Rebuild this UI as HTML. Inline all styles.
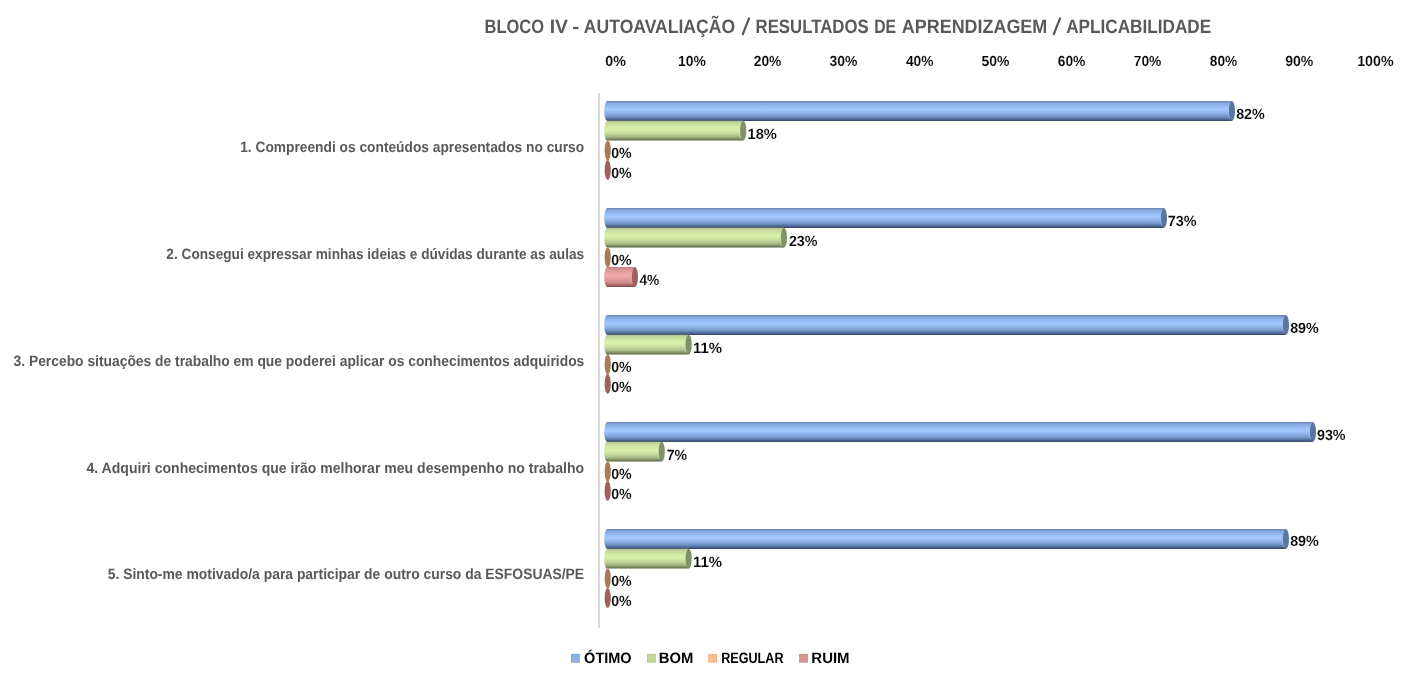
<!DOCTYPE html>
<html><head><meta charset="utf-8"><style>
html,body{margin:0;padding:0;background:#fff;width:1415px;height:680px;overflow:hidden}
svg{display:block;will-change:transform}
text{font-family:"Liberation Sans", sans-serif;font-weight:bold;text-rendering:geometricPrecision}
.k{stroke:#fff;stroke-width:0.12px}
</style></head><body>
<svg width="1415" height="680" viewBox="0 0 1415 680">
<defs>
<linearGradient id="gb" x1="0" y1="0" x2="0" y2="1"><stop offset="0" stop-color="#6585b5"/><stop offset="0.12" stop-color="#86aadf"/><stop offset="0.3" stop-color="#98befa"/><stop offset="0.45" stop-color="#a2caff"/><stop offset="0.6" stop-color="#90b4ea"/><stop offset="0.78" stop-color="#7294c6"/><stop offset="0.9" stop-color="#52709c"/><stop offset="0.96" stop-color="#3c5276"/><stop offset="1" stop-color="#34466a"/></linearGradient>
<linearGradient id="gg" x1="0" y1="0" x2="0" y2="1"><stop offset="0" stop-color="#aebf8b"/><stop offset="0.1" stop-color="#c4d89d"/><stop offset="0.3" stop-color="#d4eaa6"/><stop offset="0.45" stop-color="#d9efab"/><stop offset="0.62" stop-color="#c9dc9e"/><stop offset="0.8" stop-color="#a9ba88"/><stop offset="0.92" stop-color="#7f8d5d"/><stop offset="0.97" stop-color="#5e6a45"/><stop offset="1" stop-color="#56613f"/></linearGradient>
<linearGradient id="go" x1="0" y1="0" x2="0" y2="1"><stop offset="0" stop-color="#c99a6e"/><stop offset="0.45" stop-color="#f9c497"/><stop offset="1" stop-color="#8a6040"/></linearGradient>
<linearGradient id="gr" x1="0" y1="0" x2="0" y2="1"><stop offset="0" stop-color="#c88484"/><stop offset="0.12" stop-color="#d89494"/><stop offset="0.3" stop-color="#eaa2a2"/><stop offset="0.45" stop-color="#f2a9a9"/><stop offset="0.6" stop-color="#e49c9c"/><stop offset="0.78" stop-color="#cc8a8a"/><stop offset="0.9" stop-color="#a86a6a"/><stop offset="0.96" stop-color="#8c5050"/><stop offset="1" stop-color="#804848"/></linearGradient>
</defs>
<rect width="1415" height="680" fill="#fff"/>
<rect x="598" y="93" width="2" height="535" fill="#d9d9d9"/>
<path d="M742.5,35.0 L749.3,17.6 M1053.5,35.0 L1060.3,17.6" stroke="#595959" stroke-width="2.2" fill="none"/>
<text x="484.48" y="32.7" font-size="19.4" fill="#595959" text-anchor="start" textLength="59.54" lengthAdjust="spacingAndGlyphs">BLOCO</text>
<text x="549.66" y="32.7" font-size="19.4" fill="#595959" text-anchor="start" textLength="18.31" lengthAdjust="spacingAndGlyphs">IV</text>
<text x="572.19" y="32.7" font-size="19.4" fill="#595959" text-anchor="start" textLength="7.09" lengthAdjust="spacingAndGlyphs">-</text>
<text x="583.86" y="32.7" font-size="19.4" fill="#595959" text-anchor="start" textLength="151.19" lengthAdjust="spacingAndGlyphs">AUTOAVALIAÇÃO</text>
<text x="755.55" y="32.7" font-size="19.4" fill="#595959" text-anchor="start" textLength="113.15" lengthAdjust="spacingAndGlyphs">RESULTADOS</text>
<text x="874.19" y="32.7" font-size="19.4" fill="#595959" text-anchor="start" textLength="21.84" lengthAdjust="spacingAndGlyphs">DE</text>
<text x="901.82" y="32.7" font-size="19.4" fill="#595959" text-anchor="start" textLength="145.45" lengthAdjust="spacingAndGlyphs">APRENDIZAGEM</text>
<text x="1066.15" y="32.7" font-size="19.4" fill="#595959" text-anchor="start" textLength="145.0" lengthAdjust="spacingAndGlyphs">APLICABILIDADE</text>
<text x="240.2" y="152.3" font-size="15" fill="#595959" text-anchor="start" textLength="343.98" lengthAdjust="spacingAndGlyphs">1. Compreendi os conteúdos apresentados no curso</text>
<text x="166.37" y="259.0" font-size="15" fill="#595959" text-anchor="start" textLength="417.81" lengthAdjust="spacingAndGlyphs">2. Consegui expressar minhas ideias e dúvidas durante as aulas</text>
<text x="13.55" y="365.85" font-size="15" fill="#595959" text-anchor="start" textLength="570.77" lengthAdjust="spacingAndGlyphs">3. Percebo situações de trabalho em que poderei aplicar os conhecimentos adquiridos</text>
<text x="86.47" y="472.65" font-size="15" fill="#595959" text-anchor="start" textLength="497.71" lengthAdjust="spacingAndGlyphs">4. Adquiri conhecimentos que irão melhorar meu desempenho no trabalho</text>
<text x="107.69" y="579.3" font-size="15" fill="#595959" text-anchor="start" textLength="476.46" lengthAdjust="spacingAndGlyphs">5. Sinto-me motivado/a para participar de outro curso da ESFOSUAS/PE</text>
<text x="584.12" y="662.75" font-size="15" fill="#000" text-anchor="start" textLength="47.53" lengthAdjust="spacingAndGlyphs">ÓTIMO</text>
<text x="658.87" y="662.75" font-size="15" fill="#000" text-anchor="start" textLength="34.56" lengthAdjust="spacingAndGlyphs">BOM</text>
<text x="721.16" y="662.75" font-size="15" fill="#000" text-anchor="start" textLength="62.33" lengthAdjust="spacingAndGlyphs">REGULAR</text>
<text x="811.32" y="662.75" font-size="15" fill="#000" text-anchor="start" textLength="38.27" lengthAdjust="spacingAndGlyphs">RUIM</text>
<text x="605.23" y="66.2" font-size="14.6" fill="#000" text-anchor="start" textLength="20.62" lengthAdjust="spacingAndGlyphs" class="k">0%</text>
<text x="677.98" y="66.2" font-size="14.6" fill="#000" text-anchor="start" textLength="27.83" lengthAdjust="spacingAndGlyphs" class="k">10%</text>
<text x="753.77" y="66.2" font-size="14.6" fill="#000" text-anchor="start" textLength="27.55" lengthAdjust="spacingAndGlyphs" class="k">20%</text>
<text x="829.46" y="66.2" font-size="14.6" fill="#000" text-anchor="start" textLength="27.9" lengthAdjust="spacingAndGlyphs" class="k">30%</text>
<text x="905.93" y="66.2" font-size="14.6" fill="#000" text-anchor="start" textLength="27.52" lengthAdjust="spacingAndGlyphs" class="k">40%</text>
<text x="981.47" y="66.2" font-size="14.6" fill="#000" text-anchor="start" textLength="27.92" lengthAdjust="spacingAndGlyphs" class="k">50%</text>
<text x="1057.71" y="66.2" font-size="14.6" fill="#000" text-anchor="start" textLength="27.72" lengthAdjust="spacingAndGlyphs" class="k">60%</text>
<text x="1133.73" y="66.2" font-size="14.6" fill="#000" text-anchor="start" textLength="27.7" lengthAdjust="spacingAndGlyphs" class="k">70%</text>
<text x="1209.84" y="66.2" font-size="14.6" fill="#000" text-anchor="start" textLength="27.49" lengthAdjust="spacingAndGlyphs" class="k">80%</text>
<text x="1285.19" y="66.2" font-size="14.6" fill="#000" text-anchor="start" textLength="28.19" lengthAdjust="spacingAndGlyphs" class="k">90%</text>
<text x="1357.15" y="66.2" font-size="14.6" fill="#000" text-anchor="start" textLength="36.41" lengthAdjust="spacingAndGlyphs" class="k">100%</text>
<text x="1236.13" y="119.25" font-size="14.8" fill="#000" text-anchor="start" textLength="28.59" lengthAdjust="spacingAndGlyphs" class="k">82%</text>
<text x="747.54" y="138.65" font-size="14.8" fill="#000" text-anchor="start" textLength="29.3" lengthAdjust="spacingAndGlyphs" class="k">18%</text>
<text x="611.16" y="158.05" font-size="14.8" fill="#000" text-anchor="start" textLength="20.46" lengthAdjust="spacingAndGlyphs" class="k">0%</text>
<text x="611.16" y="177.75" font-size="14.8" fill="#000" text-anchor="start" textLength="20.46" lengthAdjust="spacingAndGlyphs" class="k">0%</text>
<text x="1167.82" y="226.25" font-size="14.8" fill="#000" text-anchor="start" textLength="28.81" lengthAdjust="spacingAndGlyphs" class="k">73%</text>
<text x="788.93" y="245.65" font-size="14.8" fill="#000" text-anchor="start" textLength="28.62" lengthAdjust="spacingAndGlyphs" class="k">23%</text>
<text x="611.16" y="265.05" font-size="14.8" fill="#000" text-anchor="start" textLength="20.46" lengthAdjust="spacingAndGlyphs" class="k">0%</text>
<text x="639.38" y="285.35" font-size="14.8" fill="#000" text-anchor="start" textLength="19.87" lengthAdjust="spacingAndGlyphs" class="k">4%</text>
<text x="1290.13" y="333.25" font-size="14.8" fill="#000" text-anchor="start" textLength="28.59" lengthAdjust="spacingAndGlyphs" class="k">89%</text>
<text x="693.14" y="352.65" font-size="14.8" fill="#000" text-anchor="start" textLength="28.96" lengthAdjust="spacingAndGlyphs" class="k">11%</text>
<text x="611.16" y="372.05" font-size="14.8" fill="#000" text-anchor="start" textLength="20.46" lengthAdjust="spacingAndGlyphs" class="k">0%</text>
<text x="611.16" y="391.75" font-size="14.8" fill="#000" text-anchor="start" textLength="20.46" lengthAdjust="spacingAndGlyphs" class="k">0%</text>
<text x="1316.93" y="440.25" font-size="14.8" fill="#000" text-anchor="start" textLength="28.67" lengthAdjust="spacingAndGlyphs" class="k">93%</text>
<text x="666.64" y="459.65" font-size="14.8" fill="#000" text-anchor="start" textLength="20.37" lengthAdjust="spacingAndGlyphs" class="k">7%</text>
<text x="611.16" y="479.05" font-size="14.8" fill="#000" text-anchor="start" textLength="20.46" lengthAdjust="spacingAndGlyphs" class="k">0%</text>
<text x="611.16" y="498.75" font-size="14.8" fill="#000" text-anchor="start" textLength="20.46" lengthAdjust="spacingAndGlyphs" class="k">0%</text>
<text x="1290.13" y="546.25" font-size="14.8" fill="#000" text-anchor="start" textLength="28.59" lengthAdjust="spacingAndGlyphs" class="k">89%</text>
<text x="693.14" y="566.65" font-size="14.8" fill="#000" text-anchor="start" textLength="28.96" lengthAdjust="spacingAndGlyphs" class="k">11%</text>
<text x="611.16" y="586.05" font-size="14.8" fill="#000" text-anchor="start" textLength="20.46" lengthAdjust="spacingAndGlyphs" class="k">0%</text>
<text x="611.16" y="605.75" font-size="14.8" fill="#000" text-anchor="start" textLength="20.46" lengthAdjust="spacingAndGlyphs" class="k">0%</text>
<path d="M607.30,101.00 L1231.90,101.00 L1231.90,120.90 L607.30,120.90 A3.1,9.95 0 0 1 607.30,101.00 Z" fill="url(#gb)"/>
<ellipse cx="1231.00" cy="110.95" rx="3.1" ry="8.45" fill="#a2caff" opacity="0.8"/>
<ellipse cx="1231.90" cy="110.95" rx="3.1" ry="9.95" fill="#5a789f"/>
<path d="M607.30,120.70 L743.20,120.70 L743.20,140.60 L607.30,140.60 A3.1,9.95 0 0 1 607.30,120.70 Z" fill="url(#gg)"/>
<ellipse cx="742.30" cy="130.65" rx="3.1" ry="8.45" fill="#d9efab" opacity="0.8"/>
<ellipse cx="743.20" cy="130.65" rx="3.1" ry="9.95" fill="#80926a"/>
<ellipse cx="607.70" cy="150.35" rx="3.1" ry="9.95" fill="#a67c56"/>
<ellipse cx="607.70" cy="170.05" rx="3.1" ry="9.95" fill="#9c6262"/>
<path d="M607.30,208.00 L1163.90,208.00 L1163.90,227.90 L607.30,227.90 A3.1,9.95 0 0 1 607.30,208.00 Z" fill="url(#gb)"/>
<ellipse cx="1163.00" cy="217.95" rx="3.1" ry="8.45" fill="#a2caff" opacity="0.8"/>
<ellipse cx="1163.90" cy="217.95" rx="3.1" ry="9.95" fill="#5a789f"/>
<path d="M607.30,227.70 L783.90,227.70 L783.90,247.60 L607.30,247.60 A3.1,9.95 0 0 1 607.30,227.70 Z" fill="url(#gg)"/>
<ellipse cx="783.00" cy="237.65" rx="3.1" ry="8.45" fill="#d9efab" opacity="0.8"/>
<ellipse cx="783.90" cy="237.65" rx="3.1" ry="9.95" fill="#80926a"/>
<ellipse cx="607.70" cy="257.35" rx="3.1" ry="9.95" fill="#a67c56"/>
<path d="M607.30,267.10 L634.90,267.10 L634.90,287.00 L607.30,287.00 A3.1,9.95 0 0 1 607.30,267.10 Z" fill="url(#gr)"/>
<ellipse cx="634.00" cy="277.05" rx="3.1" ry="8.45" fill="#f2a9a9" opacity="0.8"/>
<ellipse cx="634.90" cy="277.05" rx="3.1" ry="9.95" fill="#9c6262"/>
<path d="M607.30,315.00 L1285.90,315.00 L1285.90,334.90 L607.30,334.90 A3.1,9.95 0 0 1 607.30,315.00 Z" fill="url(#gb)"/>
<ellipse cx="1285.00" cy="324.95" rx="3.1" ry="8.45" fill="#a2caff" opacity="0.8"/>
<ellipse cx="1285.90" cy="324.95" rx="3.1" ry="9.95" fill="#5a789f"/>
<path d="M607.30,334.70 L688.60,334.70 L688.60,354.60 L607.30,354.60 A3.1,9.95 0 0 1 607.30,334.70 Z" fill="url(#gg)"/>
<ellipse cx="687.70" cy="344.65" rx="3.1" ry="8.45" fill="#d9efab" opacity="0.8"/>
<ellipse cx="688.60" cy="344.65" rx="3.1" ry="9.95" fill="#80926a"/>
<ellipse cx="607.70" cy="364.35" rx="3.1" ry="9.95" fill="#a67c56"/>
<ellipse cx="607.70" cy="384.05" rx="3.1" ry="9.95" fill="#9c6262"/>
<path d="M607.30,422.00 L1312.90,422.00 L1312.90,441.90 L607.30,441.90 A3.1,9.95 0 0 1 607.30,422.00 Z" fill="url(#gb)"/>
<ellipse cx="1312.00" cy="431.95" rx="3.1" ry="8.45" fill="#a2caff" opacity="0.8"/>
<ellipse cx="1312.90" cy="431.95" rx="3.1" ry="9.95" fill="#5a789f"/>
<path d="M607.30,441.70 L661.70,441.70 L661.70,461.60 L607.30,461.60 A3.1,9.95 0 0 1 607.30,441.70 Z" fill="url(#gg)"/>
<ellipse cx="660.80" cy="451.65" rx="3.1" ry="8.45" fill="#d9efab" opacity="0.8"/>
<ellipse cx="661.70" cy="451.65" rx="3.1" ry="9.95" fill="#80926a"/>
<ellipse cx="607.70" cy="471.35" rx="3.1" ry="9.95" fill="#a67c56"/>
<ellipse cx="607.70" cy="491.05" rx="3.1" ry="9.95" fill="#9c6262"/>
<path d="M607.30,529.00 L1285.90,529.00 L1285.90,548.90 L607.30,548.90 A3.1,9.95 0 0 1 607.30,529.00 Z" fill="url(#gb)"/>
<ellipse cx="1285.00" cy="538.95" rx="3.1" ry="8.45" fill="#a2caff" opacity="0.8"/>
<ellipse cx="1285.90" cy="538.95" rx="3.1" ry="9.95" fill="#5a789f"/>
<path d="M607.30,548.70 L688.60,548.70 L688.60,568.60 L607.30,568.60 A3.1,9.95 0 0 1 607.30,548.70 Z" fill="url(#gg)"/>
<ellipse cx="687.70" cy="558.65" rx="3.1" ry="8.45" fill="#d9efab" opacity="0.8"/>
<ellipse cx="688.60" cy="558.65" rx="3.1" ry="9.95" fill="#80926a"/>
<ellipse cx="607.70" cy="578.35" rx="3.1" ry="9.95" fill="#a67c56"/>
<ellipse cx="607.70" cy="598.05" rx="3.1" ry="9.95" fill="#9c6262"/>
<rect x="571" y="653.9" width="8.8" height="8.8" fill="#7ea5dc"/>
<rect x="572" y="654.9" width="6.8" height="6.8" fill="#8eb2e2"/>
<rect x="647" y="653.9" width="8.8" height="8.8" fill="#b3ca88"/>
<rect x="648" y="654.9" width="6.8" height="6.8" fill="#c3d69b"/>
<rect x="708.2" y="653.9" width="8.8" height="8.8" fill="#f6b37e"/>
<rect x="709.2" y="654.9" width="6.8" height="6.8" fill="#f9c08f"/>
<rect x="799.1" y="653.9" width="8.8" height="8.8" fill="#d3898a"/>
<rect x="800.1" y="654.9" width="6.8" height="6.8" fill="#d99594"/>
</svg></body></html>
